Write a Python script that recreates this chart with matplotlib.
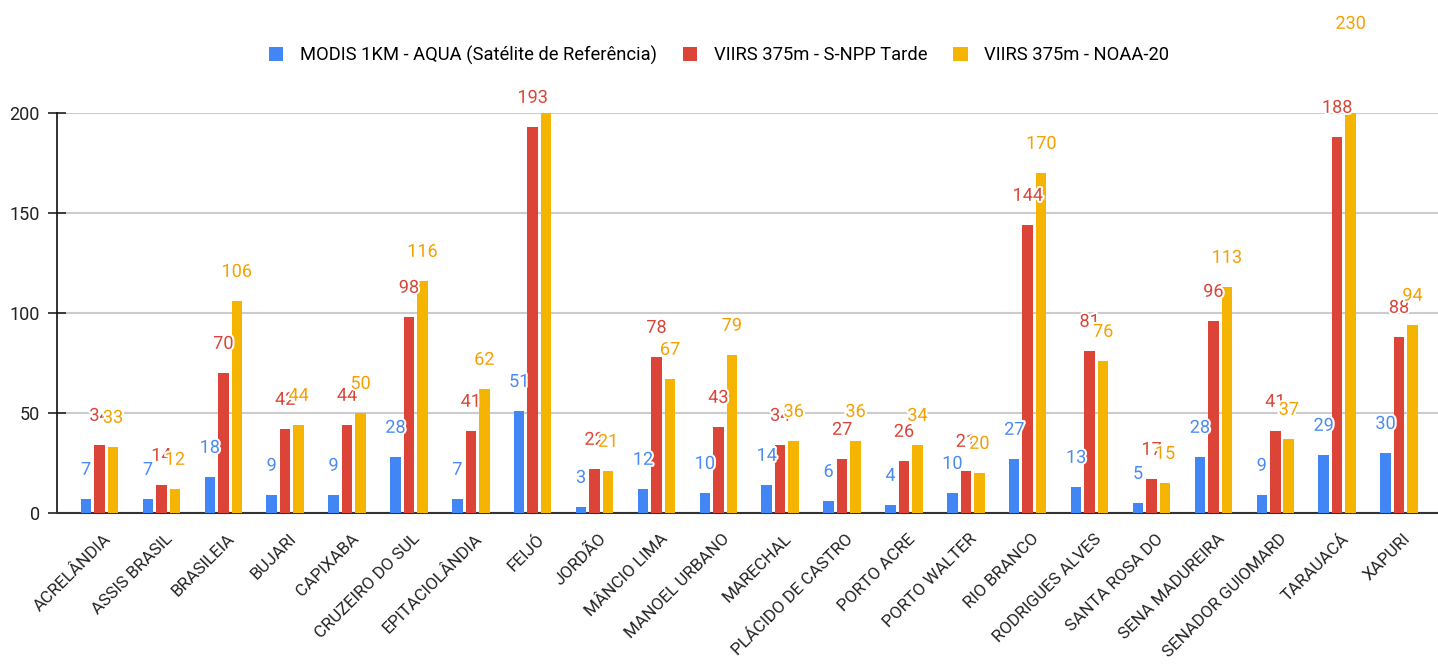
import matplotlib
matplotlib.use("Agg")
import matplotlib.pyplot as plt
import matplotlib.patheffects as pe
import matplotlib.transforms as mtransforms
import numpy as np

plt.rcParams['font.family'] = ['Roboto', 'DejaVu Sans']

# dados
municipios = ['ACRELÂNDIA', 'ASSIS BRASIL', 'BRASILEIA', 'BUJARI', 'CAPIXABA',
              'CRUZEIRO DO SUL', 'EPITACIOLÂNDIA', 'FEIJÓ', 'JORDÃO', 'MÂNCIO LIMA',
              'MANOEL URBANO', 'MARECHAL', 'PLÁCIDO DE CASTRO', 'PORTO ACRE',
              'PORTO WALTER', 'RIO BRANCO', 'RODRIGUES ALVES', 'SANTA ROSA DO',
              'SENA MADUREIRA', 'SENADOR GUIOMARD', 'TARAUACÁ', 'XAPURI']
modis = [7, 7, 18, 9, 9, 28, 7, 51, 3, 12, 10, 14, 6, 4, 10, 27, 13, 5, 28, 9, 29, 30]
snpp = [34, 14, 70, 42, 44, 98, 41, 193, 22, 78, 43, 34, 27, 26, 21, 144, 81, 17, 96, 41, 188, 88]
noaa = [33, 12, 106, 44, 50, 116, 62, 215, 21, 67, 79, 36, 36, 34, 20, 170, 76, 15, 113, 37, 230, 94]

series = ['MODIS 1KM - AQUA (Satélite de Referência)', 'VIIRS 375m - S-NPP Tarde', 'VIIRS 375m - NOAA-20']
cores = ['#4285F4', '#DB4437', '#F4B400']
cores_rotulo = ['#4A8AF4', '#DB4437', '#F5A000']
# rótulo escondido no original (colide com a legenda)
ocultos = [(2, 'FEIJÓ')]

fig = plt.figure(figsize=(14.38, 6.69), dpi=100)
ax = fig.add_axes([57 / 1438, 1 - 513 / 669, 1 - 57 / 1438, 400 / 669])

x = np.arange(len(municipios))
largura = 0.17
desloc = [-0.218, 0, 0.218]

for i, (valores, nome) in enumerate(zip([modis, snpp, noaa], series)):
    ax.bar(x + desloc[i], valores, largura, color=cores[i], label=nome, zorder=3)
    for j, v in enumerate(valores):
        if (i, municipios[j]) in ocultos:
            continue
        ax.annotate(str(v), (x[j] + desloc[i], v), xytext=(0, 21),
                    textcoords='offset points', ha='center', va='center',
                    fontsize=13, color=cores_rotulo[i], annotation_clip=False, zorder=5,
                    path_effects=[pe.withStroke(linewidth=3, foreground='white')])

ax.set_ylim(0, 200)
ax.set_xlim(-0.687, 21.63)
ax.set_yticks([0, 50, 100, 150, 200])
ax.yaxis.grid(True, color='#cccccc', linewidth=1.5, zorder=0)
ax.set_axisbelow(True)
ax.tick_params(axis='y', direction='inout', length=13, width=1.2, labelsize=13, pad=6, colors='#222222')
ax.tick_params(axis='x', length=0, labelsize=12.3, pad=17)
ax.set_xticks(x)
ax.set_xticklabels(municipios, rotation=45, ha='right', va='center',
                   rotation_mode='anchor', color='#222222')
desl = mtransforms.ScaledTranslation(9 / 100, 0, fig.dpi_scale_trans)
for lbl in ax.get_xticklabels():
    lbl.set_transform(lbl.get_transform() + desl)

for s in ['top', 'right']:
    ax.spines[s].set_visible(False)
ax.spines['left'].set_color('#111111')
ax.spines['left'].set_linewidth(1.2)
ax.spines['bottom'].set_color('#333333')
ax.spines['bottom'].set_linewidth(1.5)

fig.legend(loc='center', bbox_to_anchor=(0.5, 1 - 55 / 669), ncol=3, frameon=False,
           fontsize=13.2, handlelength=0.8, handleheight=0.8, handletextpad=0.9,
           columnspacing=1.4)

plt.savefig('out.png', dpi=100)
